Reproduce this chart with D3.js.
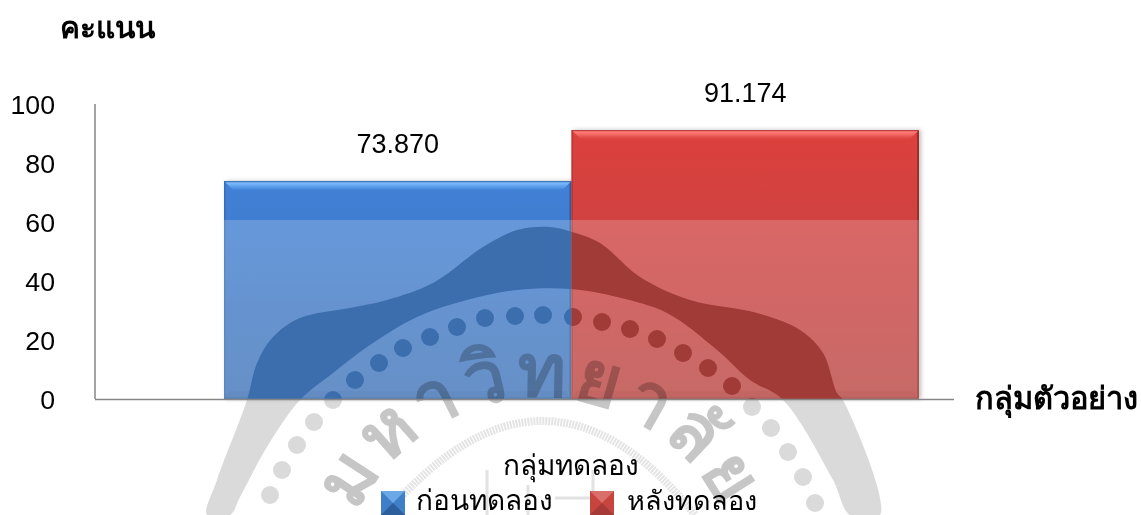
<!DOCTYPE html>
<html><head><meta charset="utf-8">
<script src="https://cdn.jsdelivr.net/npm/d3@7"></script>
<style>html,body{margin:0;background:#fff}svg{display:block}
text{font-family:"Liberation Sans",Arial,sans-serif;fill:#000}
.th{font-family:"Noto Sans","DejaVu Sans",sans-serif}</style></head><body>
<svg id="c" width="1141" height="515"></svg>
<script>
const categories=["ก่อนทดลอง","หลังทดลอง"];
const values=[73.870,91.174];
const labels=["73.870","91.174"];
const yTicks=[0,20,40,60,80,100];
const legendTitle="กลุ่มทดลอง";
const yTitle="คะแนน";
const xTitle="กลุ่มตัวอย่าง";
const sealName="มหาวิทยาลัย";
const seriesColors=[
 {main:"#3f80d6",bottom:"#3f74b8",light:"#7cbcff",edge:"#2f62a6",dark:"#2a5590",seal:"#3c6eae",sw:["#6aa8e8","#3f7fc8","#2d5f9c"]},
 {main:"#dc413e",bottom:"#b94441",light:"#ff7d7a",edge:"#a82c2a",dark:"#8e2a28",seal:"#a03b38",sw:["#d96f6a","#c8443f","#a53a36"]}];
// decorative watermark outline, not chart data
const sealBand=[[207,515],[217,480],[247,400],[257,363],[273,337],[300,318],[350,308],[387,300],[433,283],[483,247],[517,230],[550,227],[572,232],[600,243],[640,277],[690,300],[757,313],[800,330],[823,353],[837,393],[843,400],[880,515],[850,515],[833,480],[783,400],[750,380],[717,350],[667,313],[617,297],[570,289],[517,290],[467,300],[417,317],[367,347],[333,373],[300,400],[267,447],[240,497],[230,515]];
const sealDots=[[270,495],[282,470],[297,445],[314,422],[333,400],[355,380],[379,363],[403,348],[430,337],[457,327],[485,318],[515,316],[543,315],[573,317],[602,322],[630,329],[657,339],[683,353],[708,368],[732,386],[752,407],[771,428],[788,452],[803,477],[815,503]];

const svg=d3.select("#c");
const defs=svg.append("defs");
const y=d3.scaleLinear().domain([0,100]).range([399,104]);
const x=d3.scaleBand().domain(categories).range([224,919]).padding(0);

defs.append("path").attr("id","sealArc").attr("d","M 337 600 A 203 203 0 0 1 743 600");
function seal(g,color,ringColor){
  g.append("path").attr("d",d3.line().curve(d3.curveCatmullRomClosed.alpha(.5))(sealBand)).attr("fill",color);
  g.selectAll("circle").data(sealDots).join("circle").attr("cx",d=>d[0]).attr("cy",d=>d[1]).attr("r",9).attr("fill",color);
  if(ringColor!=="none")g.append("path").attr("d","M 385 515 Q 545 327 695 515").attr("fill","none").attr("stroke",ringColor).attr("stroke-width",8).attr("stroke-dasharray","2 1");
}
// pale watermark on the page
seal(svg.append("g"),"#dadada","#e4e4e4");
const faint=svg.append("g").attr("stroke","#e2e2e2").attr("stroke-width",3);
[[487,470,515],[593,470,515],[528,485,515]].forEach(d=>faint.append("line").attr("x1",d[0]).attr("x2",d[0]).attr("y1",d[1]).attr("y2",d[2]));
faint.append("line").attr("x1",555).attr("x2",592).attr("y1",498).attr("y2",498);

// gradients
seriesColors.forEach((c,i)=>{
  const g=defs.append("linearGradient").attr("id","bar"+i).attr("x1",0).attr("y1",0).attr("x2",0).attr("y2",1);
  g.append("stop").attr("offset","0").attr("stop-color",c.main);
  g.append("stop").attr("offset","1").attr("stop-color",c.bottom);
  const l=defs.append("linearGradient").attr("id","lg"+i).attr("x1",0).attr("y1",0).attr("x2",0).attr("y2",1);
  l.append("stop").attr("offset","0").attr("stop-color",c.edge);
  l.append("stop").attr("offset",".2").attr("stop-color",c.light);
  l.append("stop").attr("offset","1").attr("stop-color",c.main);
});
defs.append("filter").attr("id","sh").attr("x","-5%").attr("y","-5%").attr("width","110%").attr("height","110%")
  .append("feDropShadow").attr("dx",2).attr("dy",0).attr("stdDeviation",2).attr("flood-color","#000").attr("flood-opacity",.25);

const p=a=>a.map(q=>q.join(",")).join(" ");
function bevel(g,x0,y0,w,h,c,i){
  const x1=x0+w,y1=y0+h,b=9;
  g.append("polygon").attr("points",p([[x0,y0],[x1,y0],[x1-b,y0+b],[x0+b,y0+b]])).attr("fill",`url(#lg${i})`);
  g.append("polygon").attr("points",p([[x0,y0],[x0+1.5,y0],[x0+1.5,y1],[x0,y1]])).attr("fill",c.edge).attr("opacity",.6);
  g.append("polygon").attr("points",p([[x1,y0],[x1-2,y0+2],[x1-2,y1-2],[x1,y1]])).attr("fill",c.dark).attr("opacity",.8);
  g.append("polygon").attr("points",p([[x0,y1],[x0+6,y1-8],[x1-6,y1-8],[x1,y1]])).attr("fill",c.dark).attr("opacity",.12);
  g.append("rect").attr("x",x0).attr("y",y1-2).attr("width",w).attr("height",2).attr("fill",c.dark).attr("opacity",.35);
}
const bars=svg.append("g");
categories.forEach((cat,i)=>{
  const g=bars.append("g").attr("filter","url(#sh)");
  const X=x(cat),Y=y(values[i]),W=x.bandwidth(),H=y(0)-Y;
  g.append("rect").attr("x",X).attr("y",Y).attr("width",W).attr("height",H).attr("fill",`url(#bar${i})`);
  bevel(g,X,Y,W,H,seriesColors[i],i);
});
// watermark sheet over the bars
svg.append("rect").attr("x",x(categories[0])).attr("y",220).attr("width",x.bandwidth()*2).attr("height",y(0)-220).attr("fill","#fff").attr("opacity",.2);
categories.forEach((cat,i)=>{
  defs.append("clipPath").attr("id","clip"+i).append("rect").attr("x",x(cat)).attr("y",y(values[i])).attr("width",x.bandwidth()).attr("height",y(0)-y(values[i]));
  seal(svg.append("g").attr("clip-path",`url(#clip${i})`),seriesColors[i].seal,"none");
});
// the seal's lettering, drawn once and multiplied over page and bars alike
svg.append("text").attr("class","th").attr("font-size",74).attr("font-weight",700).attr("letter-spacing",6)
  .style("fill","#c6c6c6").style("mix-blend-mode","multiply")
  .append("textPath").attr("href","#sealArc").attr("startOffset","50%").attr("text-anchor","middle").text(sealName);

// axes
const axis=svg.append("g").attr("stroke","#868686").attr("stroke-width",1.5);
axis.append("line").attr("x1",95).attr("x2",95).attr("y1",y(100)).attr("y2",y(0));
axis.append("line").attr("x1",95).attr("x2",954).attr("y1",y(0)+.5).attr("y2",y(0)+.5);

svg.append("g").selectAll("text").data(yTicks).join("text")
  .attr("x",55).attr("y",d=>y(d)+9.5).attr("text-anchor","end").attr("font-size",26.7).text(d=>d);
svg.append("g").selectAll("text").data(labels).join("text")
  .attr("x",(d,i)=>x(categories[i])+x.bandwidth()/2).attr("y",(d,i)=>y(values[i])-28).attr("text-anchor","middle").attr("font-size",27).text(d=>d);

svg.append("text").attr("class","th").attr("x",60).attr("y",38).attr("font-size",29.8).attr("font-weight",700).text(yTitle);
svg.append("text").attr("class","th").attr("x",975).attr("y",409).attr("font-size",30.8).attr("font-weight",700).text(xTitle);
svg.append("text").attr("class","th").attr("x",571).attr("y",475).attr("text-anchor","middle").attr("font-size",28).text(legendTitle);

// legend
const lx=[381,590],tx=[416,627];
categories.forEach((cat,i)=>{
  const g=svg.append("g");
  const c=seriesColors[i],X=lx[i],Y=491,S=24,m=[X+S/2,Y+S/2];
  g.append("rect").attr("x",X).attr("y",Y).attr("width",S).attr("height",S).attr("fill",c.sw[1]);
  g.append("polygon").attr("points",p([[X,Y],[X+S,Y],m])).attr("fill",c.sw[0]);
  g.append("polygon").attr("points",p([[X,Y+S],[X+S,Y+S],m])).attr("fill",c.sw[2]);
  g.append("text").attr("class","th").attr("x",tx[i]).attr("y",510).attr("font-size",i?27:28).text(cat);
});
</script></body></html>
